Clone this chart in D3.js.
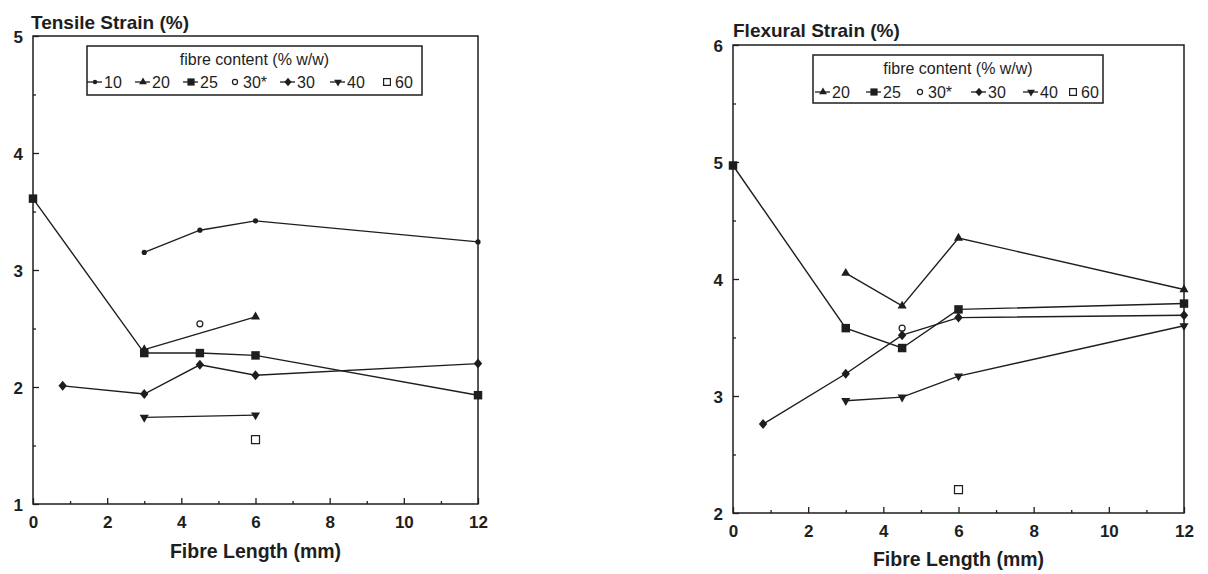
<!DOCTYPE html>
<html>
<head>
<meta charset="utf-8">
<script src="https://cdn.jsdelivr.net/npm/d3@7"></script>
<style>
  html, body { margin: 0; padding: 0; background: #fff; }
  svg { display: block; font-family: "Liberation Sans", Arial, Helvetica, sans-serif; }
</style>
</head>
<body>
<svg id="chart" width="1208" height="574"></svg>
<script>
// ---------------- data ----------------
const xTickValues = [0, 2, 4, 6, 8, 10, 12];
const tensileTickValues = [1, 2, 3, 4, 5];
const flexuralTickValues = [2, 3, 4, 5, 6];

const tensileLegend = ["10", "20", "25", "30*", "30", "40", "60"];
const flexuralLegend = ["20", "25", "30*", "30", "40", "60"];

// Tensile strain (%)
const tensile10X = [3, 4.5, 6, 12];
const tensile10Y = [3.15, 3.34, 3.42, 3.24];
const tensile20X = [3, 6];
const tensile20Y = [2.32, 2.60];
const tensile25X = [0, 3, 4.5, 6, 12];
const tensile25Y = [3.61, 2.29, 2.29, 2.27, 1.93];
const tensile30sX = [4.5];
const tensile30sY = [2.54];
const tensile30X = [0.8, 3, 4.5, 6, 12];
const tensile30Y = [2.01, 1.94, 2.19, 2.10, 2.20];
const tensile40X = [3, 6];
const tensile40Y = [1.74, 1.76];
const tensile60X = [6];
const tensile60Y = [1.55];

// Flexural strain (%)
const flexural20X = [3, 4.5, 6, 12];
const flexural20Y = [4.05, 3.77, 4.35, 3.91];
const flexural25X = [0, 3, 4.5, 6, 12];
const flexural25Y = [4.97, 3.58, 3.41, 3.74, 3.79];
const flexural30sX = [4.5];
const flexural30sY = [3.58];
const flexural30X = [0.8, 3, 4.5, 6, 12];
const flexural30Y = [2.76, 3.19, 3.52, 3.67, 3.69];
const flexural40X = [3, 4.5, 6, 12];
const flexural40Y = [2.96, 2.99, 3.17, 3.60];
const flexural60X = [6];
const flexural60Y = [2.20];

// ---------------- styling / layout ----------------
const ink = "#1e1e1e";
const markerKind = {
  "10": "dot", "20": "tri", "25": "sq", "30*": "ocirc",
  "30": "diam", "40": "tridown", "60": "osq"
};
const hasLine = { "10": true, "20": true, "25": true, "30*": false, "30": true, "40": true, "60": false };

function zipSeries(name, xs, ys) {
  return { name, pts: xs.map((x, i) => ({ x, y: ys[i] })) };
}

const panels = [
  {
    title: "Tensile Strain (%)",
    yDomain: [1, 5], yTicks: tensileTickValues,
    left: 33, right: 478, top: 36, bottom: 504,
    titleX: 31, titleY: 29, xTitleY: 558,
    series: [
      zipSeries("10", tensile10X, tensile10Y),
      zipSeries("20", tensile20X, tensile20Y),
      zipSeries("25", tensile25X, tensile25Y),
      zipSeries("30*", tensile30sX, tensile30sY),
      zipSeries("30", tensile30X, tensile30Y),
      zipSeries("40", tensile40X, tensile40Y),
      zipSeries("60", tensile60X, tensile60Y)
    ],
    legendNames: tensileLegend,
    legendBox: { x: 87, y: 46, w: 335, h: 49 },
    legendTitleY: 65, legendEntryY: 82,
    legendMarkers: [95, 143, 191, 235, 288, 338, 387]
  },
  {
    title: "Flexural Strain (%)",
    yDomain: [2, 6], yTicks: flexuralTickValues,
    left: 733, right: 1184, top: 45, bottom: 513,
    titleX: 733, titleY: 37, xTitleY: 566,
    series: [
      zipSeries("20", flexural20X, flexural20Y),
      zipSeries("25", flexural25X, flexural25Y),
      zipSeries("30*", flexural30sX, flexural30sY),
      zipSeries("30", flexural30X, flexural30Y),
      zipSeries("40", flexural40X, flexural40Y),
      zipSeries("60", flexural60X, flexural60Y)
    ],
    legendNames: flexuralLegend,
    legendBox: { x: 813, y: 55, w: 290, h: 48 },
    legendTitleY: 74, legendEntryY: 92,
    legendMarkers: [823, 874, 920, 979, 1031, 1073]
  }
];

const svg = d3.select("#chart");

function drawMarker(g, kind, cx, cy, k) {
  k = k || 1;
  const sym = d3.symbol();
  switch (kind) {
    case "dot":
      g.append("circle").attr("cx", cx).attr("cy", cy).attr("r", 2.6 * k).attr("fill", ink);
      break;
    case "ocirc":
      g.append("circle").attr("cx", cx).attr("cy", cy).attr("r", 3 * k).attr("fill", "#fff")
        .attr("stroke", ink).attr("stroke-width", 1.2);
      break;
    case "sq":
      g.append("path").attr("d", sym.type(d3.symbolSquare).size(72 * k * k)())
        .attr("transform", `translate(${cx},${cy})`).attr("fill", ink);
      break;
    case "osq":
      g.append("path").attr("d", sym.type(d3.symbolSquare).size(64 * k * k)())
        .attr("transform", `translate(${cx},${cy})`).attr("fill", "#fff")
        .attr("stroke", ink).attr("stroke-width", 1.2);
      break;
    case "tri":
      g.append("path").attr("d", sym.type(d3.symbolTriangle).size(36 * k * k)())
        .attr("transform", `translate(${cx},${cy})`).attr("fill", ink);
      break;
    case "tridown":
      g.append("path").attr("d", sym.type(d3.symbolTriangle).size(36 * k * k)())
        .attr("transform", `translate(${cx},${cy}) rotate(180)`).attr("fill", ink);
      break;
    case "diam": {
      const w = 4.2 * k, h = 5 * k;
      g.append("path").attr("d", `M0,${-h}L${w},0L0,${h}L${-w},0Z`)
        .attr("transform", `translate(${cx},${cy})`).attr("fill", ink);
      break;
    }
  }
}

panels.forEach(p => {
  const g = svg.append("g");
  const x = d3.scaleLinear().domain([0, 12]).range([p.left, p.right]);
  const y = d3.scaleLinear().domain(p.yDomain).range([p.bottom, p.top]);

  // frame
  g.append("rect")
    .attr("x", p.left).attr("y", p.top)
    .attr("width", p.right - p.left).attr("height", p.bottom - p.top)
    .attr("fill", "none").attr("stroke", ink).attr("stroke-width", 1.5);

  const xMinor = g.append("g").attr("transform", `translate(0,${p.bottom})`)
    .call(d3.axisBottom(x).tickValues(d3.range(1, 12, 2)).tickSize(-3).tickFormat(""));
  const xMajor = g.append("g").attr("transform", `translate(0,${p.bottom})`)
    .call(d3.axisBottom(x).tickValues(xTickValues).tickSize(-6).tickPadding(12).tickFormat(d3.format("d")));
  const yMinor = g.append("g").attr("transform", `translate(${p.left},0)`)
    .call(d3.axisLeft(y).tickValues(d3.range(p.yDomain[0] + 0.5, p.yDomain[1], 1)).tickSize(-3).tickFormat(""));
  const yMajor = g.append("g").attr("transform", `translate(${p.left},0)`)
    .call(d3.axisLeft(y).tickValues(p.yTicks).tickSize(-6).tickPadding(10).tickFormat(d3.format("d")));

  [xMinor, xMajor, yMinor, yMajor].forEach(a => {
    a.select(".domain").remove();
    a.selectAll(".tick line").attr("stroke", ink).attr("stroke-width", 1.3);
    a.selectAll(".tick text")
      .attr("fill", ink).attr("font-size", 17).attr("font-weight", "bold")
      .attr("font-family", "'Liberation Sans', Arial, sans-serif");
  });
  yMajor.selectAll(".tick text").attr("dy", "0.4em");

  // titles
  g.append("text").attr("x", p.titleX).attr("y", p.titleY)
    .attr("font-size", 19).attr("font-weight", "bold").attr("fill", ink)
    .text(p.title);
  g.append("text").attr("x", (p.left + p.right) / 2).attr("y", p.xTitleY)
    .attr("text-anchor", "middle")
    .attr("font-size", 19.5).attr("font-weight", "bold").attr("fill", ink)
    .text("Fibre Length (mm)");

  // series
  const line = d3.line().x(d => x(d.x)).y(d => y(d.y));
  p.series.forEach(s => {
    if (hasLine[s.name] && s.pts.length > 1) {
      g.append("path").attr("d", line(s.pts)).attr("fill", "none")
        .attr("stroke", ink).attr("stroke-width", 1.4);
    }
  });
  p.series.forEach(s => {
    s.pts.forEach(d => drawMarker(g, markerKind[s.name], x(d.x), y(d.y)));
  });

  // legend
  const lb = p.legendBox;
  g.append("rect").attr("x", lb.x).attr("y", lb.y).attr("width", lb.w).attr("height", lb.h)
    .attr("fill", "#fff").attr("stroke", ink).attr("stroke-width", 1.5);
  g.append("text").attr("x", lb.x + lb.w / 2).attr("y", p.legendTitleY)
    .attr("text-anchor", "middle").attr("font-size", 16).attr("fill", ink)
    .text("fibre content (% w/w)");
  p.legendNames.forEach((name, i) => {
    const mx = p.legendMarkers[i];
    const my = p.legendEntryY;
    if (hasLine[name]) {
      g.append("line").attr("x1", mx - 8).attr("x2", mx + 7).attr("y1", my).attr("y2", my)
        .attr("stroke", ink).attr("stroke-width", 1.3);
    }
    drawMarker(g, markerKind[name], mx, my, 0.85);
    g.append("text").attr("x", hasLine[name] ? mx + 9 : mx + 8).attr("y", my + 6)
      .attr("font-size", 16).attr("fill", ink).text(name);
  });
});
</script>
</body>
</html>
